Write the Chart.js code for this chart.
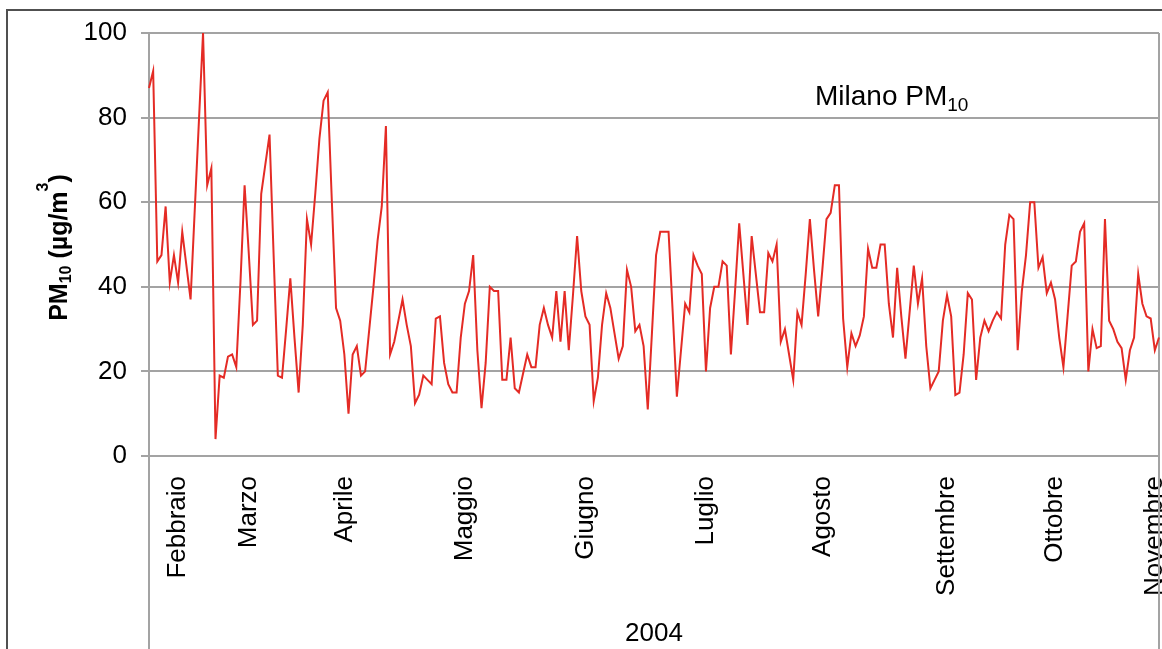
<!DOCTYPE html>
<html>
<head>
<meta charset="utf-8">
<script src="https://cdn.jsdelivr.net/npm/chart.js@4/dist/chart.umd.min.js"></script>
<style>
  html, body { margin: 0; padding: 0; background: #fff; }
  canvas { display: block; }
</style>
</head>
<body>
<canvas id="chart" width="1162" height="649"></canvas>
<script>
// Daily PM10 concentrations, Milano 2004 (µg/m³)
const pm10 = [
  87, 91, 46, 47.5, 59, 41, 47.5, 41, 53, 45,
  37, 58, 79, 100, 64, 68, 4, 19, 18.5, 23.5,
  24, 21, 41, 64, 48, 31, 32, 62, 69, 76,
  47, 19, 18.5, 30, 42, 28, 15, 31, 56, 50,
  62, 75, 84, 86, 60, 35, 32, 24, 10, 24,
  26, 19, 20, 30, 40, 51, 59, 78, 24, 27,
  32, 37, 31, 26, 12.5, 14.5, 19, 18, 17, 32.5,
  33, 22, 17, 15, 15, 28, 36, 39, 47.5, 25,
  11.3, 22, 40, 39, 39, 18, 18, 28, 16, 15,
  19.5, 24, 21, 21, 31, 35, 31, 28, 39, 27,
  39, 25, 38, 52, 39, 33, 31, 13, 18.5, 31,
  38.5, 35, 29, 23, 26, 44, 40, 29.5, 31, 26,
  11, 29, 47.5, 53, 53, 53, 34, 14, 25, 36,
  34, 47.5, 45, 43, 20, 35, 40, 40, 46, 45,
  24, 39, 55, 43, 31, 52, 43, 34, 34, 48,
  46, 50, 27, 30, 24, 18, 34, 31, 43, 56,
  44, 33, 44, 56, 57.5, 64, 64, 32.5, 21, 29,
  26, 28.5, 33, 49, 44.5, 44.5, 50, 50, 36, 28,
  44.5, 33, 23, 34, 45, 36, 42, 26, 16, 18,
  20, 32, 38, 33, 14.4, 15, 24, 38.5, 37, 18,
  28, 32, 29.5, 32, 34, 32.5, 50, 57, 56, 25,
  39, 47.5, 60, 60, 44.5, 47, 38.5, 41, 37, 28,
  21, 33, 45, 46, 53, 55, 20, 30, 25.5, 26,
  56, 32, 30, 27, 25.5, 18, 25, 28, 43, 36,
  33, 32.5, 25, 28
];

// Month names and the day (series index) each name is written under
const months   = ['Febbraio', 'Marzo', 'Aprile', 'Maggio', 'Giugno', 'Luglio', 'Agosto', 'Settembre', 'Ottobre', 'Novembre'];
const monthPos = [7, 24, 47, 76, 105, 134, 162, 192, 218, 242];

// Value axis
const yMin = 0, yMax = 100, yStep = 20;
const yearLabel = '2004';

const FONT = '"Liberation Sans", Arial, Helvetica, sans-serif';
const GRID = '#a3a3a3';
const RED = '#e42b25';

const labels = pm10.map((_, i) => {
  const k = monthPos.indexOf(i);
  return k >= 0 ? months[k] : '';
});

// Draws a sequence of text runs (for sub/superscripts) starting at x,y
function drawRuns(ctx, runs, x, y) {
  let cx = x;
  for (const r of runs) {
    ctx.font = r.font;
    ctx.fillText(r.text, cx, y + (r.dy || 0));
    cx += ctx.measureText(r.text).width;
  }
  return cx - x;
}
function runsWidth(ctx, runs) {
  let w = 0;
  for (const r of runs) { ctx.font = r.font; w += ctx.measureText(r.text).width; }
  return w;
}

const decor = {
  id: 'decor',
  beforeDraw(chart) {
    const { ctx, width, height } = chart;
    ctx.save();
    ctx.fillStyle = '#fff';
    ctx.fillRect(0, 0, width, height);
    // outer frame
    ctx.strokeStyle = '#505050';
    ctx.lineWidth = 2;
    ctx.beginPath();
    ctx.moveTo(7, height);
    ctx.lineTo(7, 10);
    ctx.lineTo(width, 10);
    ctx.stroke();
    ctx.restore();
  },
  beforeDatasetsDraw(chart) {
    const { ctx, chartArea: a, height } = chart;
    ctx.save();
    ctx.strokeStyle = GRID;
    ctx.lineWidth = 2;
    ctx.beginPath();
    ctx.moveTo(a.left, a.top); ctx.lineTo(a.left, height);
    ctx.moveTo(a.right, a.top); ctx.lineTo(a.right, height);
    ctx.stroke();
    ctx.restore();
  },
  afterDraw(chart) {
    const { ctx, chartArea: a } = chart;
    ctx.save();
    ctx.fillStyle = '#000';
    ctx.textBaseline = 'alphabetic';
    ctx.textAlign = 'left';
    // station label inside the plot
    drawRuns(ctx, [
      { text: 'Milano PM', font: '28px ' + FONT },
      { text: '10', font: '19px ' + FONT, dy: 6 }
    ], 815, 105);

    // value axis title, rotated
    const runs = [
      { text: 'PM', font: 'bold 25px ' + FONT },
      { text: '10', font: 'bold 16px ' + FONT, dy: 4 },
      { text: ' (\u00b5g/m', font: 'bold 25px ' + FONT },
      { text: '3', font: 'bold 16px ' + FONT, dy: -19 },
      { text: ')', font: 'bold 25px ' + FONT }
    ];
    const w = runsWidth(ctx, runs);
    const cy = (a.top + a.bottom) / 2 + 3;
    ctx.translate(66.5, cy + w / 2);
    ctx.rotate(-Math.PI / 2);
    drawRuns(ctx, runs, 0, 0);
    ctx.restore();
  }
};

new Chart(document.getElementById('chart'), {
  type: 'line',
  data: {
    labels: labels,
    datasets: [{
      label: 'Milano PM10',
      data: pm10,
      borderColor: RED,
      borderWidth: 2,
      pointRadius: 0,
      tension: 0,
      fill: false
    }]
  },
  options: {
    responsive: false,
    animation: false,
    devicePixelRatio: 1,
    layout: { padding: { top: 33, right: 3, left: 0, bottom: 0 } },
    plugins: {
      legend: { display: false },
      tooltip: { enabled: false },
      title: { display: false }
    },
    scales: {
      x: {
        type: 'category',
        offset: false,
        grid: { display: false, drawTicks: false },
        border: { display: false },
        ticks: {
          autoSkip: false,
          minRotation: 90,
          maxRotation: 90,
          padding: 20,
          color: '#000',
          font: { family: FONT, size: 26 }
        },
        title: {
          display: true,
          text: yearLabel,
          color: '#000',
          font: { family: FONT, size: 26 },
          padding: { top: 0, bottom: 0 }
        },
        afterFit(s) { s.height = 193; s.paddingLeft = 0; s.paddingRight = 0; }
      },
      y: {
        min: yMin,
        max: yMax,
        ticks: {
          stepSize: yStep,
          padding: 14,
          color: '#000',
          font: { family: FONT, size: 26 }
        },
        grid: { color: GRID, lineWidth: 2, tickLength: 8, drawTicks: true },
        border: { display: false },
        afterFit(s) { s.width = 149; s.paddingTop = 0; s.paddingBottom = 0; }
      }
    }
  },
  plugins: [decor]
});
</script>
</body>
</html>
